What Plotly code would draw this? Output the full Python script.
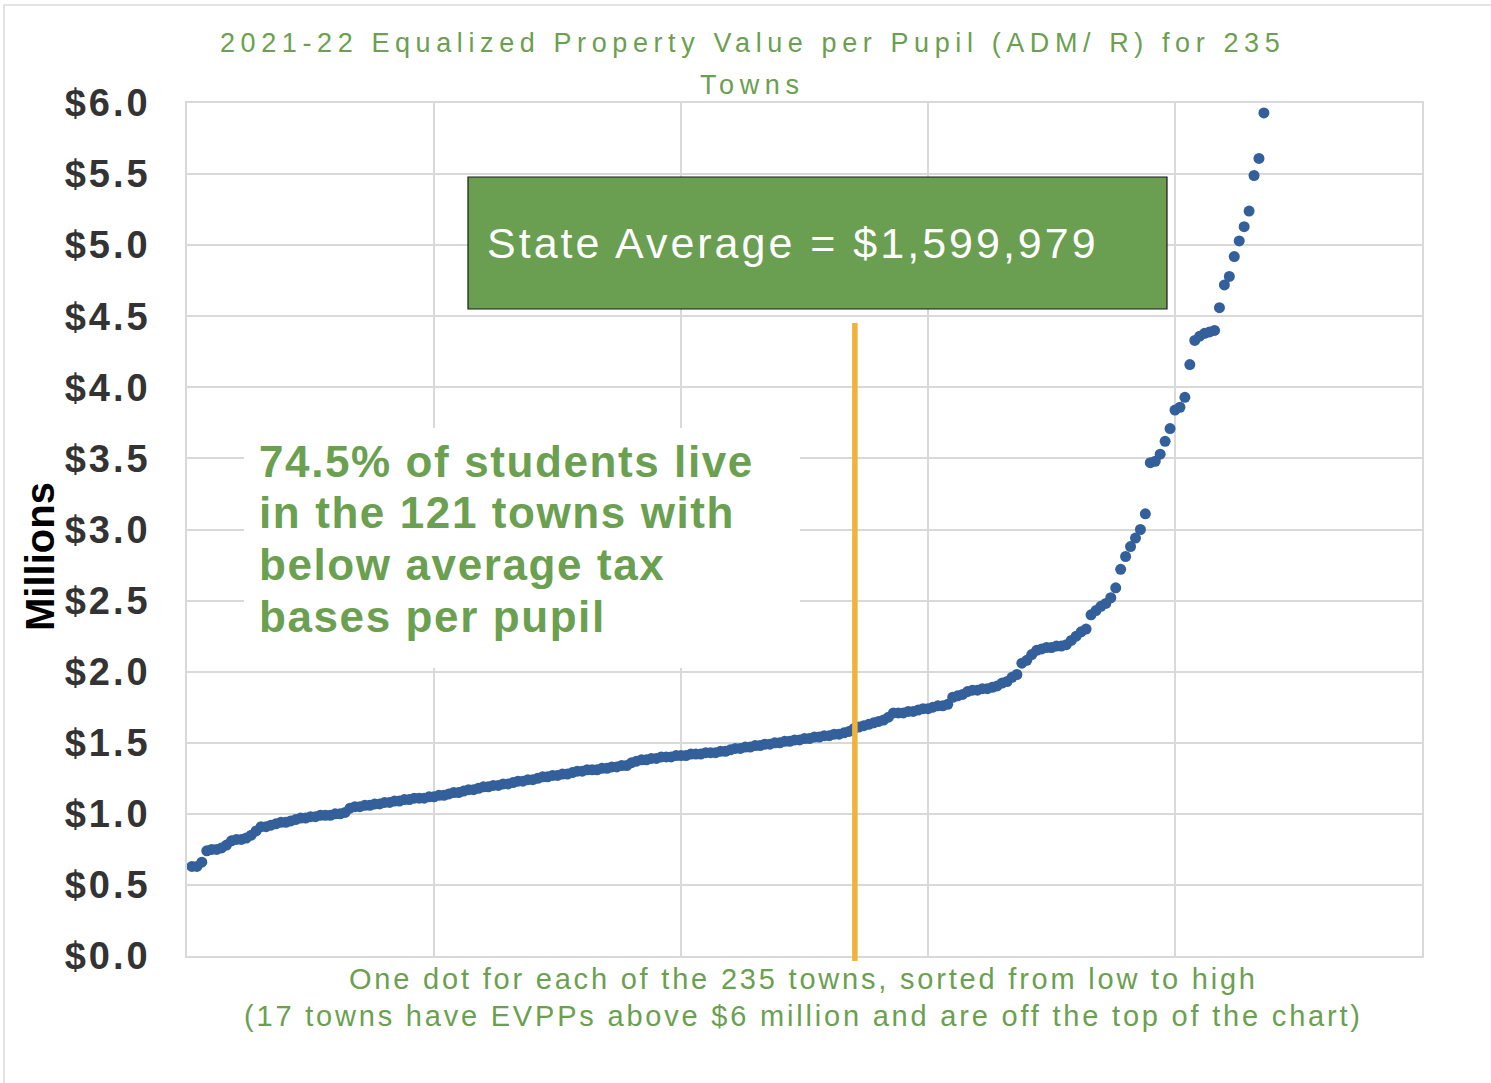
import plotly.graph_objects as go

# ---------------- data ----------------
# EVPP (millions of $) for the 218 towns visible on the chart (sorted low -> high);
# 17 further towns are above $6 million and off the top of the chart.
evpp_millions = [
    0.63, 0.63, 0.66, 0.74, 0.75, 0.75, 0.76, 0.78, 0.81, 0.82,
    0.82, 0.83, 0.85, 0.88, 0.91, 0.91, 0.92, 0.93, 0.94, 0.94,
    0.95, 0.96, 0.97, 0.97, 0.98, 0.98, 0.99, 0.99, 0.99, 1.00,
    1.00, 1.01, 1.04, 1.05, 1.05, 1.06, 1.06, 1.07, 1.07, 1.08,
    1.08, 1.09, 1.09, 1.10, 1.10, 1.11, 1.11, 1.11, 1.12, 1.12,
    1.13, 1.13, 1.14, 1.15, 1.15, 1.16, 1.17, 1.17, 1.18, 1.19,
    1.19, 1.20, 1.20, 1.21, 1.21, 1.22, 1.23, 1.23, 1.24, 1.24,
    1.25, 1.26, 1.26, 1.27, 1.27, 1.28, 1.28, 1.29, 1.30, 1.30,
    1.31, 1.31, 1.31, 1.32, 1.32, 1.33, 1.33, 1.34, 1.34, 1.36,
    1.37, 1.38, 1.38, 1.39, 1.39, 1.40, 1.40, 1.40, 1.41, 1.41,
    1.41, 1.42, 1.42, 1.42, 1.43, 1.43, 1.43, 1.44, 1.44, 1.45,
    1.46, 1.46, 1.47, 1.47, 1.48, 1.48, 1.49, 1.49, 1.50, 1.50,
    1.51, 1.51, 1.52, 1.52, 1.53, 1.53, 1.54, 1.54, 1.55, 1.55,
    1.56, 1.56, 1.57, 1.58, 1.60, 1.61, 1.62, 1.63, 1.64, 1.65,
    1.66, 1.68, 1.71, 1.71, 1.71, 1.72, 1.72, 1.73, 1.74, 1.74,
    1.75, 1.76, 1.76, 1.77, 1.82, 1.83, 1.84, 1.86, 1.87, 1.87,
    1.88, 1.88, 1.89, 1.90, 1.92, 1.93, 1.96, 1.98, 2.06, 2.08,
    2.12, 2.15, 2.16, 2.17, 2.17, 2.18, 2.18, 2.19, 2.22, 2.25,
    2.28, 2.30, 2.40, 2.43, 2.46, 2.48, 2.52, 2.59, 2.72, 2.81,
    2.88, 2.94, 3.00, 3.11, 3.47, 3.48, 3.53, 3.62, 3.71, 3.84,
    3.86, 3.93, 4.16, 4.33, 4.36, 4.38, 4.39, 4.40, 4.56, 4.72,
    4.78, 4.92, 5.03, 5.13, 5.24, 5.49, 5.61, 5.93,
]
town_rank = list(range(1, len(evpp_millions) + 1))

y_tick_values = [0.0, 0.5, 1.0, 1.5, 2.0, 2.5, 3.0, 3.5, 4.0, 4.5, 5.0, 5.5, 6.0]
y_tick_labels = ["$0.0", "$0.5", "$1.0", "$1.5", "$2.0", "$2.5", "$3.0",
                 "$3.5", "$4.0", "$4.5", "$5.0", "$5.5", "$6.0"]

state_average_line_rank = 135.2      # where the sorted towns cross the state average
state_average_line_top = 4.45

title_lines = ["2021-22 Equalized Property Value per Pupil (ADM/ R) for 235", "Towns"]
box_text = "State Average = $1,599,979"
note_lines = ["74.5% of students live", "in the 121 towns with",
              "below average tax", "bases per pupil"]
bottom_lines = ["One dot for each of the 235 towns, sorted from low to high",
                "(17 towns have EVPPs above $6 million and are off the top of the chart)"]

# ---------------- layout geometry ----------------
W, H = 1491, 1083
L, R, T, B = 187, 69, 103, 127
PW, PH = W - L - R, H - T - B

def px(xp):
    return (xp - L) / PW

def py(yp):
    return (H - B - yp) / PH

def spaced(text, sp):
    return '<span style="letter-spacing:%spx">%s</span>' % (sp, text)

GREEN = "#6aa04f"
BOX_GREEN = "#6a9e50"
BLUE = "#33609a"
GRID = "#d9d9d9"
FONT = "Liberation Sans, Arial, sans-serif"

fig = go.Figure()
fig.add_trace(go.Scatter(
    x=town_rank, y=evpp_millions, mode="markers",
    marker=dict(color=BLUE, size=11, line=dict(width=0)),
    showlegend=False, hoverinfo="x+y",
))

shapes = []
# outer light frame
shapes.append(dict(type="rect", xref="paper", yref="paper",
                   x0=px(4), x1=px(1500), y0=py(5), y1=py(1095),
                   line=dict(color="#dcdcdc", width=1.5), fillcolor="rgba(0,0,0,0)", layer="below"))
# orange state-average line
shapes.append(dict(type="line", xref="x", yref="paper",
                   x0=state_average_line_rank, x1=state_average_line_rank,
                   y0=py(961), y1=py(323),
                   line=dict(color="#f0b23a", width=5.5), layer="above"))
# green state average box
shapes.append(dict(type="rect", xref="paper", yref="paper",
                   x0=px(468), x1=px(1167), y0=py(309), y1=py(177),
                   line=dict(color="#1a1a1a", width=1.2), fillcolor=BOX_GREEN, layer="above"))
# white background behind the note
shapes.append(dict(type="rect", xref="paper", yref="paper",
                   x0=px(244), x1=px(800), y0=py(668), y1=py(428),
                   line=dict(width=0), fillcolor="white", layer="above"))

annotations = []
annotations.append(dict(text=spaced(box_text, 3), xref="paper", yref="paper",
                        x=px(485), y=py(243), xanchor="left", yanchor="middle",
                        showarrow=False, font=dict(family=FONT, size=43, color="white")))
for i, line in enumerate(note_lines):
    annotations.append(dict(text=spaced(line, 1.6), xref="paper", yref="paper",
                            x=px(257), y=py(461 + 51.7 * i), xanchor="left", yanchor="middle",
                            showarrow=False,
                            font=dict(family=FONT, size=44, color=GREEN, weight="bold")))
for i, line in enumerate(title_lines):
    annotations.append(dict(text=spaced(line, 5.6), xref="paper", yref="paper",
                            x=px(752), y=py(43 + 42 * i), xanchor="center", yanchor="middle",
                            showarrow=False, font=dict(family=FONT, size=27, color=GREEN)))
for i, line in enumerate(bottom_lines):
    annotations.append(dict(text=spaced(line, 2.8), xref="paper", yref="paper",
                            x=px(803), y=py(979 + 37 * i), xanchor="center", yanchor="middle",
                            showarrow=False, font=dict(family=FONT, size=29, color=GREEN)))
annotations.append(dict(text="Millions", xref="paper", yref="paper",
                        x=px(40), y=py(557), xanchor="center", yanchor="middle",
                        textangle=-90, showarrow=False,
                        font=dict(family=FONT, size=40, color="black", weight="bold")))

fig.update_layout(
    width=W, height=H, autosize=False,
    margin=dict(l=L, r=R, t=T, b=B, pad=0),
    paper_bgcolor="white", plot_bgcolor="white",
    shapes=shapes, annotations=annotations,
    xaxis=dict(range=[0, 250], dtick=50, tick0=0, showgrid=True, gridcolor=GRID, gridwidth=1.5,
               showticklabels=False, ticks="", zeroline=False,
               showline=True, mirror=True, linecolor=GRID, linewidth=1.5),
    yaxis=dict(range=[0, 6], tickvals=y_tick_values,
               ticktext=[spaced(t, 3) for t in y_tick_labels],
               showgrid=True, gridcolor=GRID, gridwidth=1.5, zeroline=False, ticks="",
               showline=True, mirror=True, linecolor=GRID, linewidth=1.5,
               ticklabelstandoff=27,
               tickfont=dict(family=FONT, size=38, color="#333333", weight="bold")),
)

fig.write_html("out.html", config={"displayModeBar": False},
               post_script="document.body.style.margin='0';")
